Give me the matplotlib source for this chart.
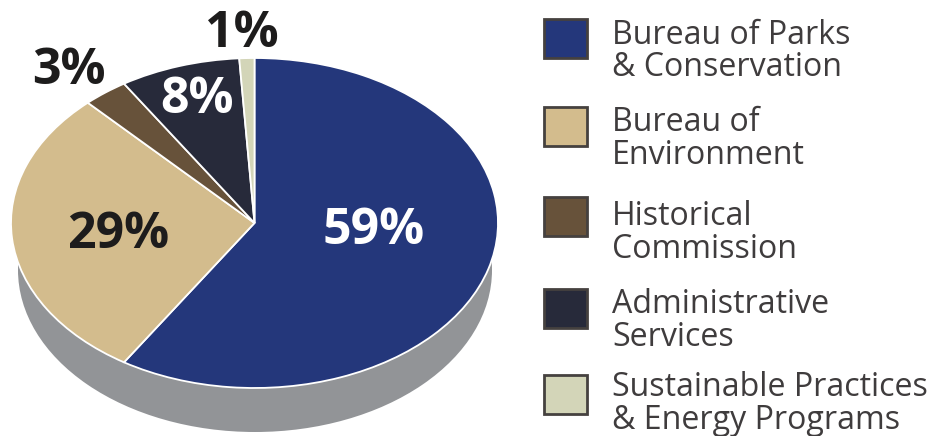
import matplotlib
matplotlib.use("Agg")
import matplotlib.pyplot as plt
from matplotlib.patches import Ellipse, Rectangle

W, H = 931, 436

shares = [59, 29, 3, 8, 1]
pct_labels = ["59%", "29%", "3%", "8%", "1%"]
legend_labels = [
    "Bureau of Parks\n& Conservation",
    "Bureau of\nEnvironment",
    "Historical\nCommission",
    "Administrative\nServices",
    "Sustainable Practices\n& Energy Programs",
]
colors = ["#24377b", "#d3bc8d", "#67523a", "#272a3a", "#d3d5b8"]
label_colors = ["white", "#1d1c1c", "#1d1c1c", "white", "#1d1c1c"]

plt.rcParams["font.family"] = ["Open Sans", "DejaVu Sans"]

fig = plt.figure(figsize=(W / 100, H / 100), dpi=100, facecolor="white")

# overlay in image pixels, for everything that isn't a pie wedge
bg = fig.add_axes([0, 0, 1, 1], zorder=0)
bg.set_xlim(0, W)
bg.set_ylim(H, 0)
bg.axis("off")

# grey rim under the pie
bg.add_patch(Ellipse((255, 270), 474, 324, facecolor="#929497", edgecolor="none"))

# pie is squashed by giving it a non-square axes
cx, cy, rx, ry = 254.5, 223, 243.5, 165
pie_ax = fig.add_axes([(cx - rx) / W, 1 - (cy + ry) / H, 2 * rx / W, 2 * ry / H], zorder=1)
pie_ax.pie(shares, colors=colors, startangle=90, counterclock=False, radius=1,
           wedgeprops={"edgecolor": "white", "linewidth": 1.3})
pie_ax.set_aspect("auto")
pie_ax.set_xlim(-1, 1)
pie_ax.set_ylim(-1, 1)
pie_ax.patch.set_visible(False)
for w in pie_ax.patches:
    w.set_clip_on(False)

top = fig.add_axes([0, 0, 1, 1], zorder=2)
top.set_xlim(0, W)
top.set_ylim(H, 0)
top.axis("off")

pct_xy = [(374, 231), (118.5, 235), (69, 71), (197, 100), (241.5, 34)]
for text, (x, y), c in zip(pct_labels, pct_xy, label_colors):
    top.text(x, y, text, color=c, fontsize=36, fontweight="bold", ha="center", va="center")

box_y = [19, 107, 197, 289, 375]
text_y = [51.5, 139, 233, 321, 403.5]
for label, c, by, ty in zip(legend_labels, colors, box_y, text_y):
    top.add_patch(Rectangle((544, by), 43, 39, facecolor=c, edgecolor="#45413f", linewidth=2))
    top.text(612, ty, label, color="#3f3c3d", fontsize=23.1, ha="left", va="center", linespacing=1.0)

fig.savefig("out.png", dpi=100)
